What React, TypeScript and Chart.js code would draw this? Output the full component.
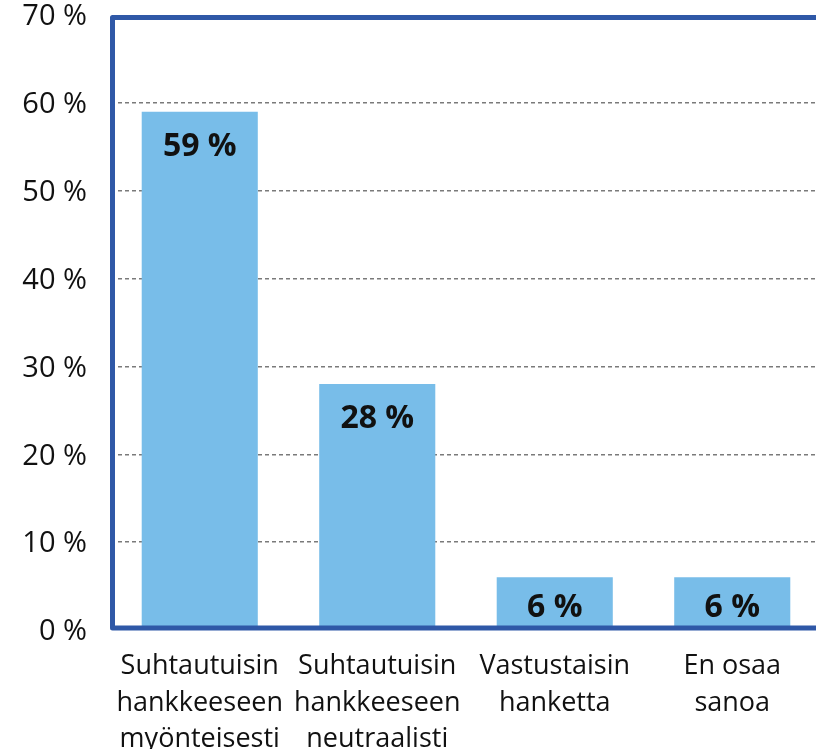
import React, { useEffect, useRef } from "react";
import { Chart, registerables } from "chart.js";

Chart.register(...registerables);

const categories: string[][] = [
  ["Suhtautuisin", "hankkeeseen", "myönteisesti"],
  ["Suhtautuisin", "hankkeeseen", "neutraalisti"],
  ["Vastustaisin", "hanketta"],
  ["En osaa", "sanoa"],
];
const values: number[] = [59, 28, 6, 6];
const yMin = 0;
const yMax = 70;
const yStep = 10;

const BAR_COLOR = "#78BDE9";
const FRAME_COLOR = "#2F58A7";
const FONT = "'Open Sans', 'Noto Sans', sans-serif";

const framePlugin = {
  id: "frameAndLabels",
  afterDatasetsDraw(chart: any) {
    const { ctx, chartArea } = chart;
    const meta = chart.getDatasetMeta(0);
    ctx.save();
    ctx.font = `bold 32px ${FONT}`;
    ctx.fillStyle = "#111111";
    ctx.textAlign = "center";
    ctx.textBaseline = "middle";
    meta.data.forEach((bar: any, i: number) => {
      const y = Math.min(bar.y + 35, bar.base - 21);
      ctx.fillText(`${values[i]} %`, bar.x, y);
    });
    ctx.strokeStyle = FRAME_COLOR;
    ctx.lineWidth = 5;
    ctx.lineJoin = "round";
    ctx.beginPath();
    ctx.moveTo(chartArea.right + 20, chartArea.top + 2.5);
    ctx.lineTo(chartArea.left + 1.5, chartArea.top + 2.5);
    ctx.lineTo(chartArea.left + 1.5, chartArea.bottom - 2);
    ctx.lineTo(chartArea.right + 20, chartArea.bottom - 2);
    ctx.stroke();
    ctx.restore();
  },
};

export default function App() {
  const ref = useRef<HTMLCanvasElement | null>(null);
  useEffect(() => {
    if (!ref.current) return;
    const chart = new Chart(ref.current, {
      type: "bar",
      data: {
        labels: categories,
        datasets: [
          {
            data: values,
            backgroundColor: BAR_COLOR,
            borderWidth: 0,
            barPercentage: 0.654,
            categoryPercentage: 1,
          },
        ],
      },
      options: {
        responsive: false,
        animation: false,
        devicePixelRatio: 1,
        layout: { padding: { top: 15, left: 0, right: 0, bottom: 0 } },
        plugins: { legend: { display: false }, tooltip: { enabled: false } },
        scales: {
          x: {
            grid: { display: false, drawTicks: false },
            border: { display: false },
            ticks: {
              color: "#111111",
              font: { family: FONT, size: 27, lineHeight: 1.355 },
              padding: 18,
              maxRotation: 0,
              autoSkip: false,
            },
            afterFit(scale: any) {
              scale.height = 119;
              scale.paddingLeft = 0;
              scale.paddingRight = 0;
            },
          },
          y: {
            min: yMin,
            max: yMax,
            grid: {
              drawTicks: false,
              tickLength: 0,
              lineWidth: 1.5,
              color: (c: any) =>
                c.tick && (c.tick.value === yMin || c.tick.value === yMax)
                  ? "rgba(0,0,0,0)"
                  : "#7a7a7a",
            },
            border: { display: false, dash: [4, 3] },
            ticks: {
              stepSize: yStep,
              color: "#111111",
              font: { family: FONT, size: 29 },
              padding: 24,
              labelOffset: 2,
              callback: (v: any) => `${v} %`,
            },
            afterFit(scale: any) {
              scale.width = 111;
              scale.paddingTop = 0;
              scale.paddingBottom = 0;
            },
          },
        },
      },
      plugins: [framePlugin],
    });
    return () => chart.destroy();
  }, []);
  return (
    <div
      style={{
        position: "absolute",
        left: 0,
        top: 0,
        width: 816,
        height: 749,
        overflow: "hidden",
        background: "#ffffff",
      }}
    >
      <canvas ref={ref} width={821} height={749} style={{ display: "block" }} />
    </div>
  );
}
